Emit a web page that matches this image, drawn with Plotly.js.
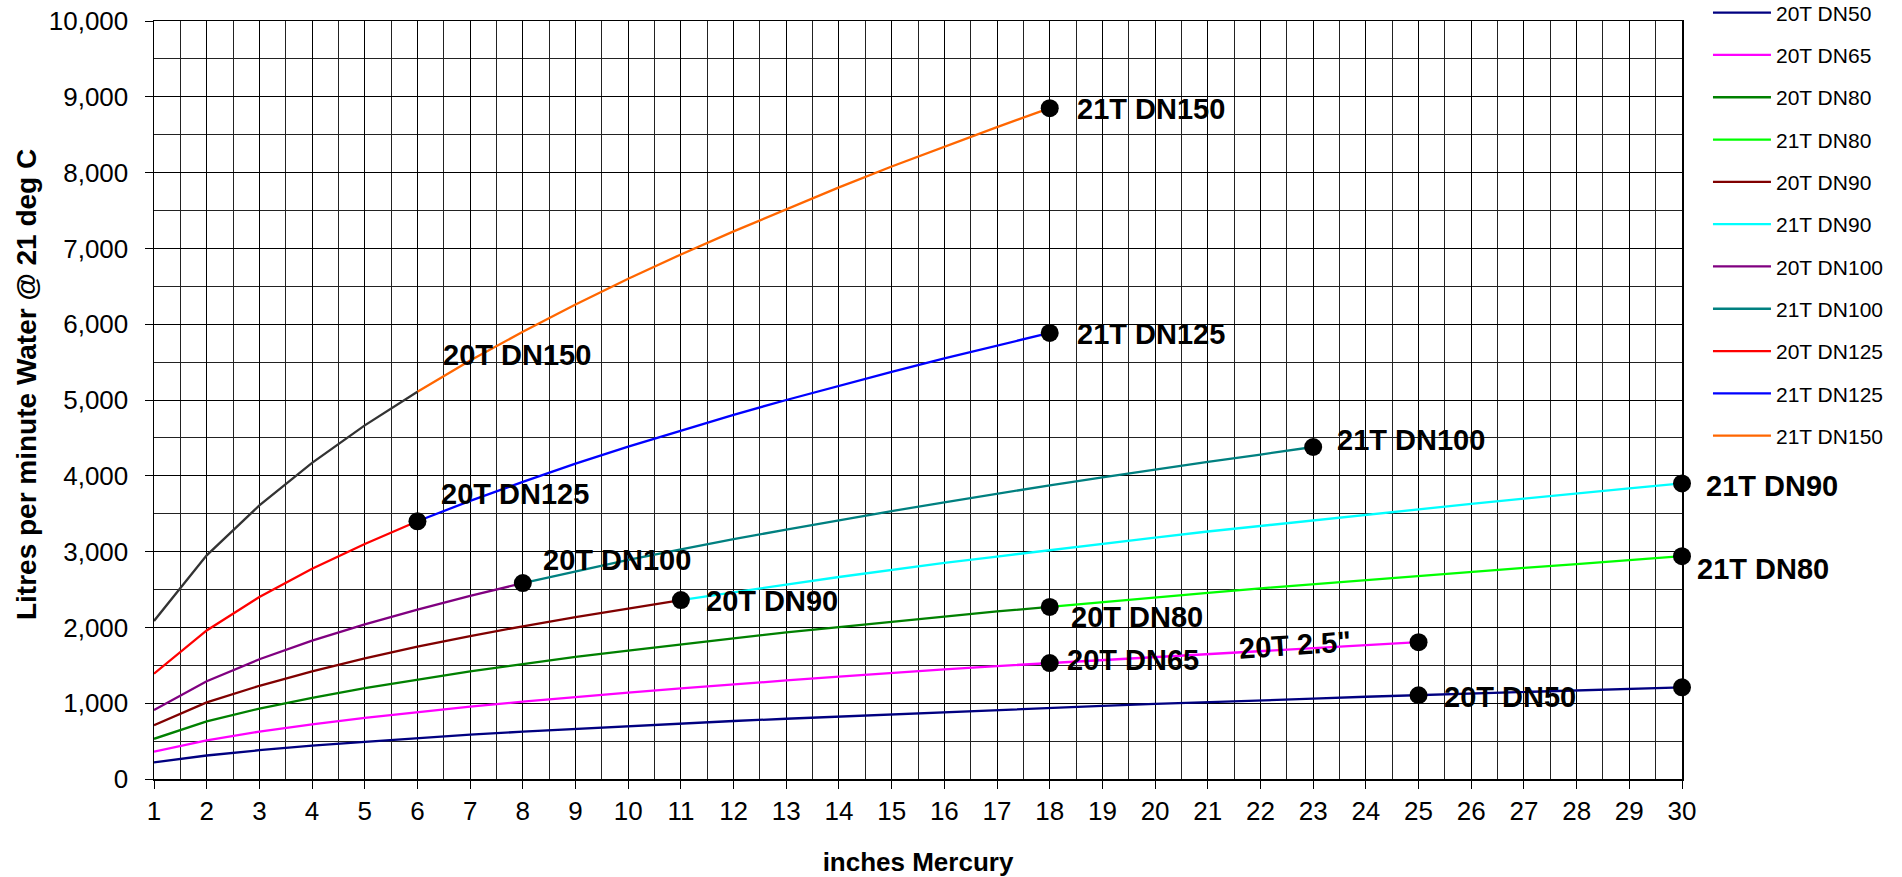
<!DOCTYPE html>
<html>
<head>
<meta charset="utf-8">
<script src="https://cdn.plot.ly/plotly-3.0.1.min.js"></script>
<style>html,body{margin:0;padding:0;background:#fff;}#chart{width:1902px;height:877px;}</style>
</head>
<body>
<div id="chart"></div>
<script>
// inches Mercury (x) values
var xFull = [1,2,3,4,5,6,7,8,9,10,11,12,13,14,15,16,17,18,19,20,21,22,23,24,25,26,27,28,29,30];

// Litres per minute water @ 21 deg C
var x_20T_DN50 = [1,2,3,4,5,6,7,8,9,10,11,12,13,14,15,16,17,18,19,20,21,22,23,24,25,26,27,28,29,30];
var y_20T_DN50 = [220,310,380,440,490,540,585,625,660,700,730,765,795,825,855,885,910,940,965,990,1010,1035,1060,1085,1105,1125,1150,1170,1190,1210];

var x_20T_DN65 = [1,2,3,4,5,6,7,8,9,10,11,12,13,14,15,16,17,18,19,20,21,22,23,24,25];
var y_20T_DN65 = [360,510,625,720,805,885,955,1020,1085,1140,1195,1250,1300,1350,1400,1445,1490,1530,1575,1615,1655,1695,1730,1770,1805];

var x_20T_DN80 = [1,2,3,4,5,6,7,8,9,10,11,12,13,14,15,16,17,18];
var y_20T_DN80 = [530,760,930,1070,1200,1310,1420,1515,1610,1695,1780,1855,1935,2005,2075,2145,2210,2270];

var x_21T_DN80 = [18,19,20,21,22,23,24,25,26,27,28,29,30];
var y_21T_DN80 = [2270,2335,2395,2455,2515,2570,2625,2680,2735,2785,2835,2885,2940];

var x_20T_DN90 = [1,2,3,4,5,6,7,8,9,10,11];
var y_20T_DN90 = [710,1010,1230,1420,1590,1745,1885,2015,2135,2250,2360];

var x_21T_DN90 = [11,12,13,14,15,16,17,18,19,20,21,22,23,24,25,26,27,28,29,30];
var y_21T_DN90 = [2360,2465,2565,2665,2760,2850,2935,3020,3105,3185,3265,3340,3415,3490,3560,3630,3700,3770,3835,3900];

var x_20T_DN100 = [1,2,3,4,5,6,7,8];
var y_20T_DN100 = [910,1290,1580,1825,2040,2235,2415,2585];

var x_21T_DN100 = [8,9,10,11,12,13,14,15,16,17,18,19,20,21,22,23];
var y_21T_DN100 = [2585,2740,2890,3030,3165,3290,3415,3535,3650,3765,3875,3980,4085,4185,4280,4380];

var x_20T_DN125 = [1,2,3,4,5,6];
var y_20T_DN125 = [1390,1960,2400,2775,3100,3400];

var x_21T_DN125 = [6,7,8,9,10,11,12,13,14,15,16,17,18];
var y_21T_DN125 = [3400,3670,3920,4160,4385,4600,4805,5000,5190,5370,5550,5720,5885];

var x_20T_DN150 = [1,2,3,4,5,6];
var y_20T_DN150 = [2085,2950,3610,4170,4665,5110];

var x_21T_DN150 = [6,7,8,9,10,11,12,13,14,15,16,17,18];
var y_21T_DN150 = [5110,5520,5900,6260,6600,6920,7225,7520,7805,8080,8345,8600,8850];

// tick labels
var xTickVals = xFull;
var yTickVals = [0,1000,2000,3000,4000,5000,6000,7000,8000,9000,10000];
var yTickText = ["0","1,000","2,000","3,000","4,000","5,000","6,000","7,000","8,000","9,000","10,000"];

var FONT = "Liberation Sans, Arial, sans-serif";

var series = [
  {name:"20T DN50",  x:x_20T_DN50,  y:y_20T_DN50,  color:"#000080", legend:true},
  {name:"20T DN65",  x:x_20T_DN65,  y:y_20T_DN65,  color:"#FF00FF", legend:true},
  {name:"20T DN80",  x:x_20T_DN80,  y:y_20T_DN80,  color:"#008000", legend:true},
  {name:"21T DN80",  x:x_21T_DN80,  y:y_21T_DN80,  color:"#00FF00", legend:true},
  {name:"20T DN90",  x:x_20T_DN90,  y:y_20T_DN90,  color:"#800000", legend:true},
  {name:"21T DN90",  x:x_21T_DN90,  y:y_21T_DN90,  color:"#00FFFF", legend:true},
  {name:"20T DN100", x:x_20T_DN100, y:y_20T_DN100, color:"#800080", legend:true},
  {name:"21T DN100", x:x_21T_DN100, y:y_21T_DN100, color:"#008080", legend:true},
  {name:"20T DN125", x:x_20T_DN125, y:y_20T_DN125, color:"#FF0000", legend:true},
  {name:"21T DN125", x:x_21T_DN125, y:y_21T_DN125, color:"#0000FF", legend:true},
  {name:"21T DN150", x:x_21T_DN150, y:y_21T_DN150, color:"#FF6600", legend:true},
  {name:"20T DN150", x:x_20T_DN150, y:y_20T_DN150, color:"#333333", legend:false}
];

var byName = {};
series.forEach(function(s){ byName[s.name] = s; });

var traces = series.map(function(s, i){
  return {
    type:"scatter", mode:"lines", name:s.name, x:s.x, y:s.y,
    line:{color:s.color, width:2.3},
    showlegend:s.legend, legendgroup:"g"+i, hoverinfo:"x+y+name"
  };
});

// black dots placed on series points
var markerRefs = [
  ["20T DN125",6],["20T DN100",8],["20T DN90",11],
  ["21T DN150",18],["21T DN125",18],["21T DN100",23],
  ["21T DN90",30],["21T DN80",30],["20T DN80",18],
  ["20T DN65",18],["20T DN65",25],["20T DN50",25],["20T DN50",30]
];
var mx = [], my = [];
markerRefs.forEach(function(r){
  var s = byName[r[0]];
  var idx = s.x.indexOf(r[1]);
  mx.push(s.x[idx]); my.push(s.y[idx]);
});
traces.push({type:"scatter", mode:"markers", x:mx, y:my, showlegend:false,
  marker:{color:"#000", size:18}, hoverinfo:"skip", cliponaxis:false});

// text labels
function lab(text, x, y, extra){
  var a = {text:text, x:x, y:y, xref:"x", yref:"y", xanchor:"left", yanchor:"middle",
    showarrow:false, font:{family:FONT, size:29, color:"#000"}};
  for (var k in extra) a[k] = extra[k];
  return a;
}
var annotations = [
  lab("<b>21T DN150</b>", 18.48, 8840),
  lab("<b>21T DN125</b>", 18.48, 5870),
  lab("<b>21T DN100</b>", 23.41, 4470),
  lab("<b>21T DN90</b>", 30, 3865, {xshift:22}),
  lab("<b>21T DN80</b>", 30, 2770, {xshift:13}),
  lab("<b>20T DN150</b>", 6.45, 5595),
  lab("<b>20T DN125</b>", 6.41, 3760),
  lab("<b>20T DN100</b>", 8.34, 2890),
  lab("<b>20T DN90</b>", 11.44, 2350),
  lab("<b>20T DN80</b>", 18.37, 2137),
  lab("<b>20T DN65</b>", 18.29, 1570),
  lab("<b>20T 2.5\"</b>", 21.53, 1768, {textangle:-4}),
  lab("<b>20T DN50</b>", 25.44, 1082),
  // y axis title
  {text:"<b>Litres per minute Water @ 21 deg C</b>", xref:"paper", yref:"paper",
   x:-0.0838, y:0.521, xanchor:"center", yanchor:"middle", textangle:-90, showarrow:false,
   font:{family:FONT, size:28, color:"#000"}}
];

var layout = {
  width:1902, height:877,
  margin:{l:154, r:220, t:21, b:98, pad:0, autoexpand:false},
  paper_bgcolor:"#fff", plot_bgcolor:"#fff",
  font:{family:FONT, size:26, color:"#000"},
  showlegend:true,
  legend:{
    x:1.017, y:1.0376, xref:"paper", yref:"paper", xanchor:"left", yanchor:"top",
    font:{family:FONT, size:21, color:"#000"}, maxheight:700,
    tracegroupgap:12, itemwidth:58, bgcolor:"rgba(0,0,0,0)", borderwidth:0
  },
  xaxis:{
    range:[1,30], tickmode:"array", tickvals:xTickVals, ticktext:xTickVals.map(String),
    ticks:"outside", ticklen:8, tickcolor:"#000", tickwidth:1,
    showgrid:true, gridcolor:"#000", gridwidth:1,
    minor:{dtick:0.5, showgrid:true, gridcolor:"#222", gridwidth:1, ticks:""},
    showline:true, linecolor:"#000", linewidth:1.5, mirror:true, zeroline:false,
    tickfont:{family:FONT, size:26, color:"#000"},
    title:{text:"<b>inches Mercury</b>", font:{family:FONT, size:26, color:"#000"}, standoff:30}
  },
  yaxis:{
    range:[0,10000], tickmode:"array", tickvals:yTickVals, ticktext:yTickText,
    ticks:"outside", ticklen:8, tickcolor:"#000", tickwidth:1,
    showgrid:true, gridcolor:"#000", gridwidth:1,
    minor:{dtick:500, showgrid:true, gridcolor:"#222", gridwidth:1, ticks:""},
    showline:true, linecolor:"#000", linewidth:1.5, mirror:true, zeroline:false,
    tickfont:{family:FONT, size:26, color:"#000"}, ticklabelstandoff:11
  },
  annotations:annotations
};

Plotly.newPlot("chart", traces, layout, {staticPlot:true, displayModeBar:false});
</script>
</body>
</html>
